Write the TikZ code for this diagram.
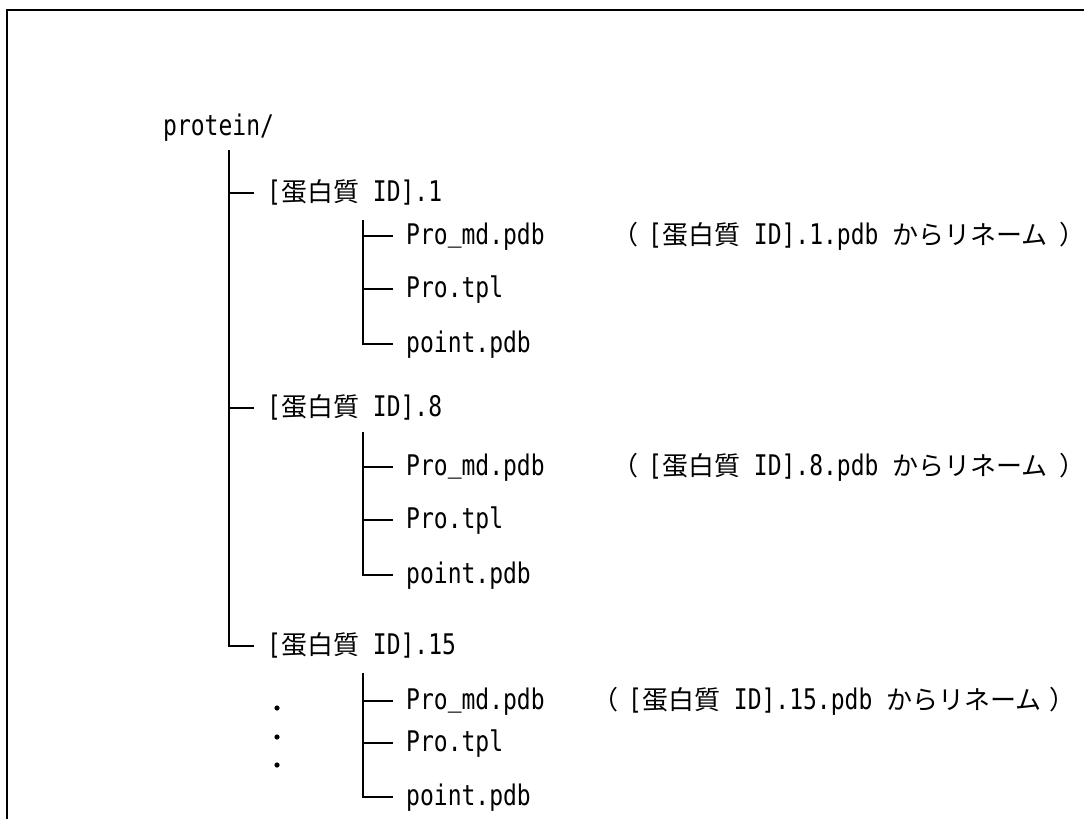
\documentclass[tikz,border=0pt]{standalone}
\usepackage{fontspec}
\setmonofont[FakeStretch=0.81]{DejaVu Sans Mono}
\newfontfamily\jpfont{Noto Sans CJK JP}
\newcommand\jtxt[1]{{\jpfont\fontsize{26}{30}\selectfont #1}}
\newcommand\usc{\raisebox{3pt}{\_}}
\begin{document}
\begin{tikzpicture}[x=1pt,y=-1pt,
  every node/.style={font=\fontsize{28.4}{32}\selectfont\ttfamily, inner ysep=0pt, text height=21pt, text depth=5pt},
  item/.style={anchor=west, inner xsep=13pt},
  note/.style={anchor=west, inner xsep=0pt},
  tree/.style={line width=2pt},
  frame/.style={line width=2.2pt}]
\useasboundingbox (0,0) rectangle (1084,819);
\draw[frame] (7,830) -- (7,10) -- (1095,10);
% root
\node[item] (root) at (150,127) {protein/};
\coordinate (trunk) at (229,150);
\node[item] (id1) at (254,193) {[\jtxt{蛋白質} ID].1};
\node[item] (id8) at (254,408) {[\jtxt{蛋白質} ID].8};
\node[item] (id15) at (254,646) {[\jtxt{蛋白質} ID].15};
\draw[tree] (trunk) |- (id15.west);
\draw[tree] (trunk |- id1.west) -- (id1.west);
\draw[tree] (trunk |- id8.west) -- (id8.west);
% group 1
\coordinate (s1) at (363,220);
\node[item] (f1a) at (393,236) {Pro\usc md.pdb};
\node[item] (f1b) at (393,289) {Pro.tpl};
\node[item] (f1c) at (393,344) {point.pdb};
\draw[tree] (s1) |- (f1c.west);
\draw[tree] (s1 |- f1a.west) -- (f1a.west);
\draw[tree] (s1 |- f1b.west) -- (f1b.west);
% group 2
\coordinate (s2) at (363,432);
\node[item] (f2a) at (393,467) {Pro\usc md.pdb};
\node[item] (f2b) at (393,520) {Pro.tpl};
\node[item] (f2c) at (393,575) {point.pdb};
\draw[tree] (s2) |- (f2c.west);
\draw[tree] (s2 |- f2a.west) -- (f2a.west);
\draw[tree] (s2 |- f2b.west) -- (f2b.west);
% group 3
\coordinate (s3) at (363,673);
\node[item] (f3a) at (393,701) {Pro\usc md.pdb};
\node[item] (f3b) at (393,743) {Pro.tpl};
\node[item] (f3c) at (393,797) {point.pdb};
\draw[tree] (s3) |- (f3c.west);
\draw[tree] (s3 |- f3a.west) -- (f3a.west);
\draw[tree] (s3 |- f3b.west) -- (f3b.west);
% notes
\node[note] (n1) at (612,236) {\jtxt{（}\hspace{10pt}[\jtxt{蛋白質} ID].1.pdb \jtxt{からリネーム}\hspace{12pt}\jtxt{）}};
\node[note] (n2) at (612,467) {\jtxt{（}\hspace{10pt}[\jtxt{蛋白質} ID].8.pdb \jtxt{からリネーム}\hspace{12pt}\jtxt{）}};
\node[note] (n3) at (592,701) {\jtxt{（}\hspace{10pt}[\jtxt{蛋白質} ID].15.pdb \jtxt{からリネーム}\hspace{8pt}\jtxt{）}};
% dots
\fill (277,708) circle (2.6pt);
\fill (277,737) circle (2.6pt);
\fill (277,765) circle (2.6pt);
\end{tikzpicture}
\end{document}
